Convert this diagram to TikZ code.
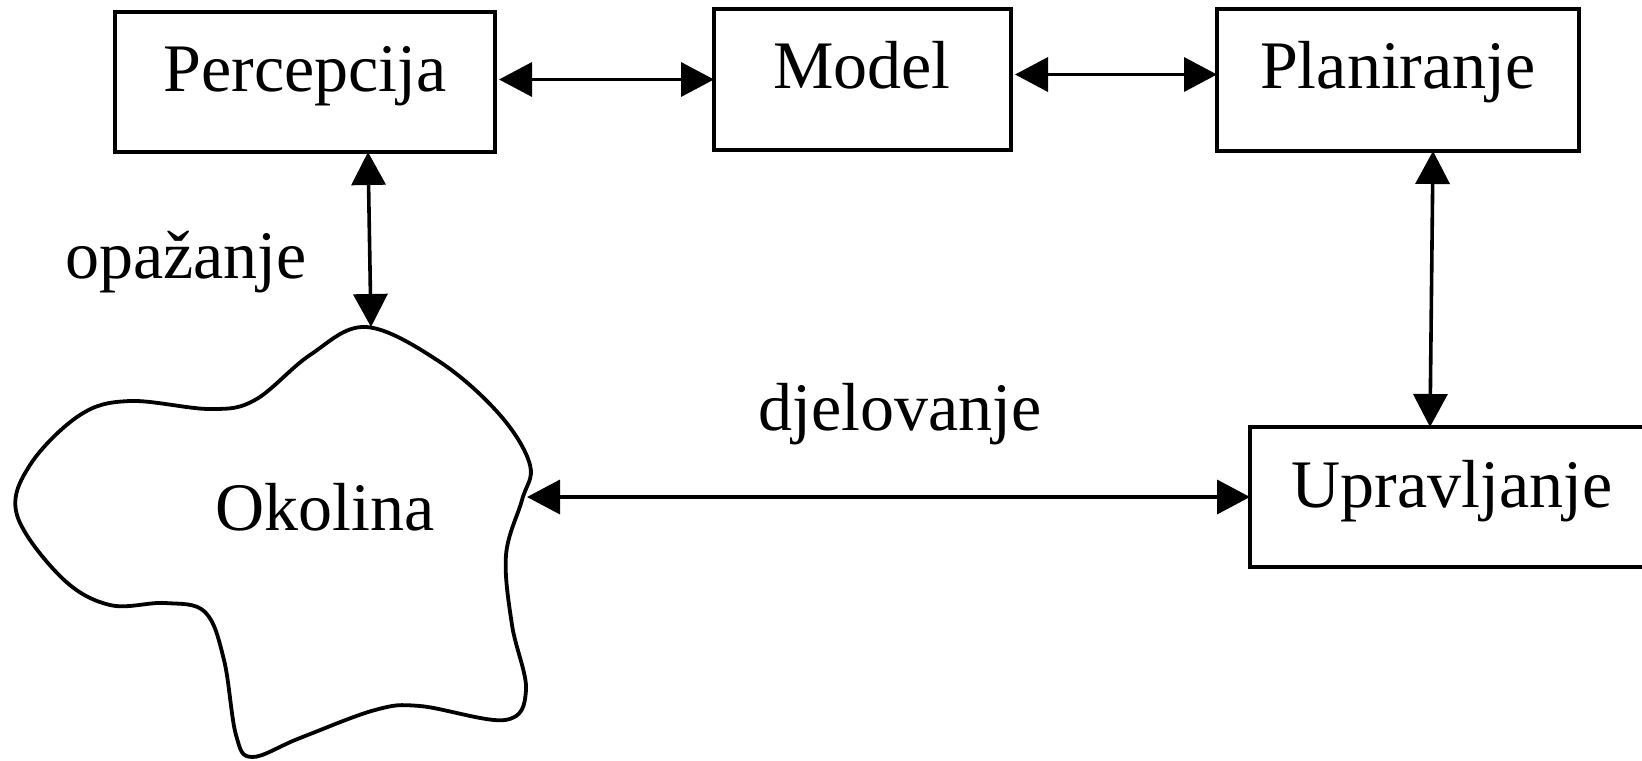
\documentclass[tikz,border=0pt]{standalone}
\usepackage{fontspec}
\setmainfont{Liberation Serif}
\usetikzlibrary{arrows.meta}

\tikzset{
  blockbox/.style={draw, line width=2pt, inner sep=0pt, outer sep=0pt},
  lbl/.style={anchor=base, inner sep=0pt, font=\fontsize{34}{40}\selectfont},
  dbl/.style={line width=1.8pt, {Triangle[length=16.5pt,width=17pt]}-{Triangle[length=16.5pt,width=17pt]}}
}

\begin{document}
\begin{tikzpicture}[x=0.5pt, y=-0.5pt]
  \useasboundingbox (0,0) rectangle (1642,760);

  % blocks
  \node[blockbox, minimum width=190pt, minimum height=70pt] (perc)  at (305,82)    {};
  \node[blockbox, minimum width=148.5pt, minimum height=70.5pt] (model) at (862.5,79.5) {};
  \node[blockbox, minimum width=181pt, minimum height=71pt] (plan)  at (1398,80)   {};
  \node[blockbox, minimum width=202pt, minimum height=70pt] (uprav) at (1452,497)  {};

  % block captions
  \node[lbl] (tperc)  at (305,91)   {Percepcija};
  \node[lbl] (tmodel) at (862,88)   {Model};
  \node[lbl] (tplan)  at (1398,88)  {Planiranje};
  \node[lbl] (tuprav) at (1452,507) {Upravljanje};

  % environment outline
  \draw[line width=1.9pt] plot[smooth cycle, tension=0.6] coordinates {
    (366,327) (440,362) (500,415) (530,465) (522,500) (506,555) (512,625)
    (526,690) (505,720) (420,706) (375,710) (300,738) (252,757) (236,735)
    (224,660) (205,612) (165,603) (110,605) (62,578) (17,515) (30,465)
    (80,415) (130,401) (210,409) (255,400) (310,355)};
  \coordinate (envtop) at (371,327);
  \coordinate (envright) at (527,497);
  \node[lbl] (tenv) at (325,530) {Okolina};

  % edge captions
  \node[lbl] (topaz) at (186,278) {opažanje};
  \node[lbl] (tdjel) at (900,430) {djelovanje};

  % connectors
  \draw[dbl, shorten <=2pt] (perc.east |- model.west) -- (model.west);
  \draw[dbl, shorten <=2pt] ([yshift=2.5pt]model.east) -- ([yshift=2.5pt]model.east -| plan.west);
  \draw[dbl] ([xshift=31.5pt]perc.south) -- (envtop);
  \draw[dbl] ([xshift=17.5pt]plan.south) -- ([xshift=-11pt]uprav.north);
  \draw[dbl] (envright) -- (uprav.west);
\end{tikzpicture}
\end{document}
